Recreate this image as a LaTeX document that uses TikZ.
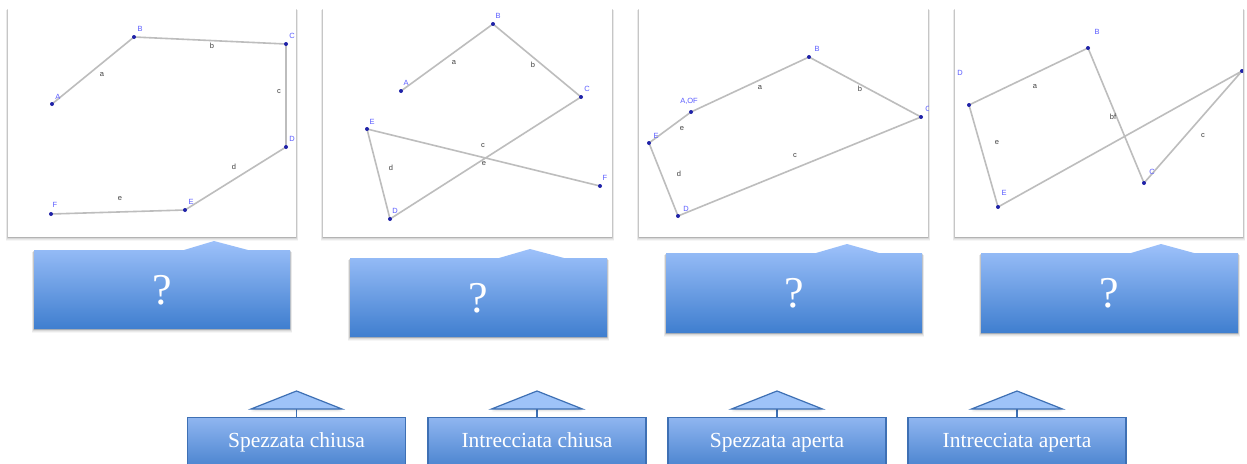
\documentclass[tikz,border=0pt]{standalone}
\usepackage{fontspec}
\setmainfont{Liberation Serif}
\newfontfamily\lblfont{Liberation Sans}
\definecolor{ptblue}{HTML}{1F22A8}
\definecolor{lblblue}{HTML}{5A5CFF}
\definecolor{seggray}{HTML}{BDBDBD}
\definecolor{calltop}{HTML}{9DC1FA}
\definecolor{callbot}{HTML}{3F7ECF}
\definecolor{tagtop}{HTML}{8FB5F0}
\definecolor{tagbot}{HTML}{4A84CF}
\definecolor{tagborder}{HTML}{3E70B4}
\definecolor{trifill}{HTML}{9EC3F8}
\tikzset{
  panel/.style={fill=white, draw=none},
  seg/.style={draw=seggray, line width=1.6pt},
  pt/.style={circle, fill=ptblue, inner sep=0pt, minimum size=4pt},
  plbl/.style={font=\lblfont\fontsize{7.5}{8}\selectfont, text=lblblue, inner sep=0pt},
  slbl/.style={font=\lblfont\fontsize{7.5}{8}\selectfont, text=black!75, inner sep=0pt},
  callout/.style={top color=calltop, bottom color=callbot, draw=none},
  qmark/.style={text=white, font=\fontsize{44}{48}\selectfont, inner sep=0pt},
  tagbox/.style={draw=tagborder, line width=1.2pt, top color=tagtop, bottom color=tagbot, minimum width=218pt, minimum height=50pt, text=white, font=\fontsize{21.5}{24}\selectfont, text height=15pt, text depth=4.5pt, anchor=north, inner sep=0pt},
  tri/.style={fill=trifill, draw=tagborder, line width=1.2pt},
  stem/.style={draw=tagborder, line width=1.2pt},
  shade layer/.style={fill=black, opacity=#1, draw=none},
}
% soft drop shadow: layered translucent rectangles (x1,y1,x2,y2)
\newcommand\softshadow[4]{%
  \foreach \k/\o in {0.6/0.10,1.3/0.08,2.1/0.07,3.0/0.05,4.0/0.035}{%
    \path[shade layer=\o] (#1-\k*0.6,#2+\k*0.5) rectangle (#3+\k*0.6,#4+\k);
  }%
}
\begin{document}
\begin{tikzpicture}[x=1pt,y=-1pt]
\useasboundingbox[fill=white] (0,0) rectangle (1247,463);

% ---------- panels ----------
\softshadow{8}{8}{296}{237}
\softshadow{323}{8}{612}{237}
\softshadow{639}{8}{928}{237}
\softshadow{955}{8}{1243}{237}
\path[panel] (8,8) rectangle (296,237);
\path[panel] (323,8) rectangle (612,237);
\path[panel] (639,8) rectangle (928,237);
\path[panel] (955,8) rectangle (1243,237);

% ---------- panel 1 ----------
\begin{scope}
\clip (8,8) rectangle (296,237);
\coordinate (pA1) at (52,104);
\coordinate (pB1) at (134,37);
\coordinate (pC1) at (286,44);
\coordinate (pD1) at (286,147);
\coordinate (pE1) at (185,210);
\coordinate (pF1) at (51,214);
\draw[seg] (pA1) -- (pB1) -- (pC1) -- (pD1) -- (pE1) -- (pF1);
\foreach \p in {pA1,pB1,pC1,pD1,pE1,pF1} \node[pt] (d\p) at (\p) {};
\node[plbl] (lA1) at (58,97) {A};
\node[plbl] (lB1) at (140,29) {B};
\node[plbl] (lC1) at (292,36) {C};
\node[plbl] (lD1) at (292,139) {D};
\node[plbl] (lE1) at (191,202) {E};
\node[plbl] (lF1) at (55,205) {F};
\node[slbl] (sa1) at (102,75) {a};
\node[slbl] (sb1) at (212,46) {b};
\node[slbl] (sc1) at (279,92) {c};
\node[slbl] (sd1) at (234,167) {d};
\node[slbl] (se1) at (120,199) {e};
\end{scope}

% ---------- panel 2 ----------
\begin{scope}
\clip (323,8) rectangle (612,237);
\coordinate (pA2) at (401,91);
\coordinate (pB2) at (493,24);
\coordinate (pC2) at (581,97);
\coordinate (pD2) at (390,219);
\coordinate (pE2) at (367,129);
\coordinate (pF2) at (600,186);
\draw[seg] (pA2) -- (pB2) -- (pC2) -- (pD2) -- (pE2) -- (pF2);
\foreach \p in {pA2,pB2,pC2,pD2,pE2,pF2} \node[pt] (d\p) at (\p) {};
\node[plbl] (lA2) at (406,83) {A};
\node[plbl] (lB2) at (498,16) {B};
\node[plbl] (lC2) at (587,89) {C};
\node[plbl] (lD2) at (395,211) {D};
\node[plbl] (lE2) at (372,122) {E};
\node[plbl] (lF2) at (605,178) {F};
\node[slbl] (sa2) at (454,63) {a};
\node[slbl] (sb2) at (533,65) {b};
\node[slbl] (sc2) at (483,146) {c};
\node[slbl] (sd2) at (391,168) {d};
\node[slbl] (se2) at (484,164) {e};
\end{scope}

% ---------- panel 3 ----------
\begin{scope}
\clip (639,8) rectangle (928,237);
\coordinate (pA3) at (691,112);
\coordinate (pB3) at (809,57);
\coordinate (pC3) at (921,117);
\coordinate (pD3) at (678,216);
\coordinate (pE3) at (649,143);
\draw[seg] (pA3) -- (pB3) -- (pC3) -- (pD3) -- (pE3) -- (pA3);
\foreach \p in {pA3,pB3,pC3,pD3,pE3} \node[pt] (d\p) at (\p) {};
\node[plbl] (lA3) at (689,101) {A,OF};
\node[plbl] (lB3) at (817,49) {B};
\node[plbl] (lC3) at (928,109) {C};
\node[plbl] (lD3) at (686,209) {D};
\node[plbl] (lE3) at (656,136) {E};
\node[slbl] (sa3) at (760,88) {a};
\node[slbl] (sb3) at (860,89) {b};
\node[slbl] (sc3) at (795,156) {c};
\node[slbl] (sd3) at (679,174) {d};
\node[slbl] (se3) at (682,129) {e};
\end{scope}

% ---------- panel 4 ----------
\begin{scope}
\clip (955,8) rectangle (1243,237);
\coordinate (pA4) at (969,105);
\coordinate (pB4) at (1088,48);
\coordinate (pC4) at (1144,183);
\coordinate (pR4) at (1242,71);
\coordinate (pE4) at (998,207);
\draw[seg] (pA4) -- (pB4) -- (pC4) -- (pR4) -- (pE4) -- (pA4);
\foreach \p in {pA4,pB4,pC4,pR4,pE4} \node[pt] (d\p) at (\p) {};
\node[plbl] (lD4) at (960,73) {D};
\node[plbl] (lB4) at (1097,32) {B};
\node[plbl] (lC4) at (1152,172) {C};
\node[plbl] (lE4) at (1004,193) {E};
\node[slbl] (sa4) at (1035,87) {a};
\node[slbl] (se4) at (997,143) {e};
\node[slbl] (sb4) at (1113,117) {bf};
\node[slbl] (sc4) at (1203,136) {c};
\end{scope}

% ---------- callouts with question marks ----------
\softshadow{34}{250}{290}{329}
\path[callout] (34,250) -- (184,250) -- (214,241) -- (248,250) -- (290,250) -- (290,329) -- (34,329) -- cycle;
\node[qmark] (q1) at (162,290) {?};
\softshadow{350}{258}{607}{337}
\path[callout] (350,258) -- (499,258) -- (530,249) -- (564,258) -- (607,258) -- (607,337) -- (350,337) -- cycle;
\node[qmark] (q2) at (478,298) {?};
\softshadow{666}{253}{922}{333}
\path[callout] (666,253) -- (816,253) -- (847,244) -- (879,253) -- (922,253) -- (922,333) -- (666,333) -- cycle;
\node[qmark] (q3) at (794,293) {?};
\softshadow{981}{253}{1238}{333}
\path[callout] (981,253) -- (1131,253) -- (1161,244) -- (1194,253) -- (1238,253) -- (1238,333) -- (981,333) -- cycle;
\node[qmark] (q4) at (1109,293) {?};

% ---------- answer tags ----------
\node[tagbox] (t1) at (296.5,417) {Spezzata chiusa};
\node[tagbox] (t2) at (537,417) {Intrecciata chiusa};
\node[tagbox] (t3) at (777,417) {Spezzata aperta};
\node[tagbox] (t4) at (1017,417) {Intrecciata aperta};

\foreach \i/\c in {1/296.5,2/537,3/777,4/1017}{
  \coordinate (tb\i) at (\c,409);
  \draw[stem] (tb\i) -- (t\i.north);
  \foreach \k/\o in {1/0.08,2/0.05,3/0.03}{
    \path[shade layer=\o] (\c-45.5,409+\k) -- (\c,391+\k) -- (\c+45.5,409+\k) -- cycle;
  }
  \path[tri] (\c-45.5,409) -- (\c,391) -- (\c+45.5,409) -- cycle;
}
\end{tikzpicture}
\end{document}
